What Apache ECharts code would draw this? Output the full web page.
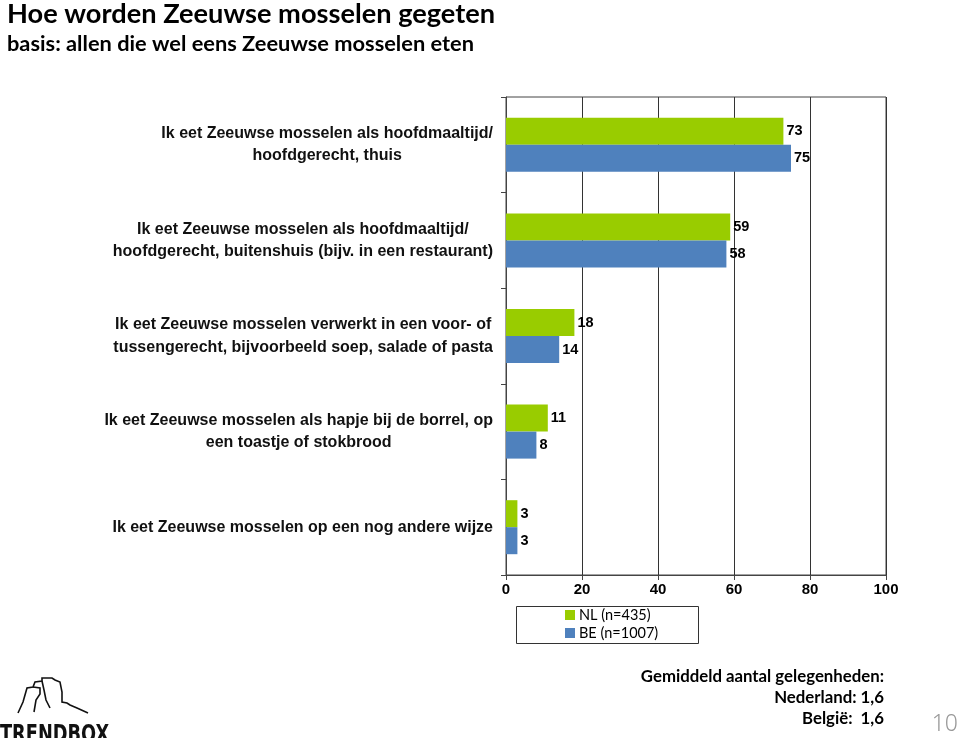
<!DOCTYPE html>
<html><head><meta charset="utf-8">
<script src="https://cdn.jsdelivr.net/npm/echarts@6/dist/echarts.min.js"></script>
<style>html,body{margin:0;padding:0;background:#fff}#c{width:960px;height:738px}</style>
</head><body><div id="c"></div>
<script>
const categories = [
  "Ik eet Zeeuwse mosselen als hoofdmaaltijd/\nhoofdgerecht, thuis",
  "Ik eet Zeeuwse mosselen als hoofdmaaltijd/\nhoofdgerecht, buitenshuis (bijv. in een restaurant)",
  "Ik eet Zeeuwse mosselen verwerkt in een voor- of\ntussengerecht, bijvoorbeeld soep, salade of pasta",
  "Ik eet Zeeuwse mosselen als hapje bij de borrel, op\neen toastje of stokbrood",
  "Ik eet Zeeuwse mosselen op een nog andere wijze"
];
const seriesNames = ["NL (n=435)", "BE (n=1007)"];
const nlValues = [73, 59, 18, 11, 3];
const beValues = [75, 58, 14, 8, 3];
const xTicks = [0, 20, 40, 60, 80, 100];
const titleText = "Hoe worden Zeeuwse mosselen gegeten";
const subtitleText = "basis: allen die wel eens Zeeuwse mosselen eten";
const footerLines = ["Gemiddeld aantal gelegenheden:", "Nederland: 1,6", "België:  1,6"];
const pageNumber = "10";

const ARIAL = "'Liberation Sans', Arial, sans-serif";
const CAL = "Lato, 'Open Sans', sans-serif";
const chart = echarts.init(document.getElementById('c'), null, {renderer: 'canvas'});

const labelStyle = {show: true, position: 'right', distance: 3, color: '#000', fontFamily: ARIAL, fontWeight: 'bold', fontSize: 14.5};

chart.setOption({
  animation: false,
  backgroundColor: '#fff',
  color: ['#99CC00', '#4F81BD'],
  grid: {left: 506, right: 74, top: 97, bottom: 163, show: true, borderColor: '#444', borderWidth: 1, containLabel: false},
  legend: {
    data: seriesNames, orient: 'vertical', left: 565, top: 606, padding: 0, itemGap: 0,
    itemWidth: 10, itemHeight: 10, icon: 'rect',
    textStyle: {fontFamily: CAL, fontSize: 14.5, color: '#000', lineHeight: 18, padding: [0, 0, 0, -1]}
  },
  xAxis: {
    type: 'value', min: xTicks[0], max: xTicks[xTicks.length - 1], interval: xTicks[1] - xTicks[0],
    axisLine: {show: true, lineStyle: {color: '#444', width: 1}},
    axisTick: {show: true, length: 5, lineStyle: {color: '#444'}},
    splitLine: {show: true, lineStyle: {color: '#333', width: 1}},
    axisLabel: {margin: 7, color: '#000', fontFamily: ARIAL, fontWeight: 'bold', fontSize: 15}
  },
  yAxis: {
    type: 'category', data: categories, inverse: true,
    axisLine: {show: true, lineStyle: {color: '#444', width: 1}},
    axisTick: {show: true, length: 5, lineStyle: {color: '#444'}},
    axisLabel: {
      margin: 13,
      formatter: v => v.split('\n').map(l => '{a|' + l + '}').join('\n'),
      rich: {a: {align: 'center', fontFamily: ARIAL, fontWeight: 'bold', fontSize: 16, lineHeight: 22.5, color: '#111'}}
    }
  },
  series: [
    {name: seriesNames[0], type: 'bar', data: nlValues, barWidth: 27, barGap: '0%', label: labelStyle},
    {name: seriesNames[1], type: 'bar', data: beValues, barWidth: 27, barGap: '0%', label: labelStyle}
  ],
  graphic: [
    {type: 'text', style: {x: 7, y: 14, text: titleText, verticalAlign: 'middle', fill: '#000', fontFamily: CAL, fontWeight: 'bold', fontSize: 27.2}},
    {type: 'text', style: {x: 7, y: 44, text: subtitleText, verticalAlign: 'middle', fill: '#000', fontFamily: CAL, fontWeight: 'bold', fontSize: 21.8}},
    {type: 'rect', shape: {x: 516.5, y: 606.5, width: 182, height: 37}, style: {fill: 'none', stroke: '#333', lineWidth: 1}, silent: true},
    {type: 'text', style: {x: 884, y: 677, text: footerLines[0], align: 'right', verticalAlign: 'middle', fill: '#000', fontFamily: CAL, fontWeight: 'bold', fontSize: 16.8}},
    {type: 'text', style: {x: 884, y: 698, text: footerLines[1], align: 'right', verticalAlign: 'middle', fill: '#000', fontFamily: CAL, fontWeight: 'bold', fontSize: 16.8}},
    {type: 'text', style: {x: 884, y: 719, text: footerLines[2], align: 'right', verticalAlign: 'middle', fill: '#000', fontFamily: CAL, fontWeight: 'bold', fontSize: 16.8}},
    {type: 'text', style: {x: 958, y: 724, text: pageNumber, align: 'right', verticalAlign: 'middle', fill: '#999', fontFamily: "'Noto Sans', sans-serif", fontWeight: 300, fontSize: 23}},
    {type: 'polyline', shape: {points: [[18,713],[23,702],[27,688],[33,687],[35,682],[42,681],[42,678],[52,678],[55,680],[60,682],[62,692],[62,702],[67,703],[70,705],[77,708],[88,713]]}, style: {stroke: '#111', fill: 'none', lineWidth: 1.6}, silent: true},
    {type: 'polyline', shape: {points: [[33,687],[40,688],[40,694],[36,700],[34,712]]}, style: {stroke: '#111', fill: 'none', lineWidth: 1.6}, silent: true},
    {type: 'polyline', shape: {points: [[42,681],[44,690],[46,700],[50,708]]}, style: {stroke: '#111', fill: 'none', lineWidth: 1.6}, silent: true},
    {type: 'text', x: 0, y: 723, scaleX: 0.79, style: {x: 0, y: 0, text: 'TRENDBOX', fill: '#111', fontFamily: "'Liberation Sans Narrow', 'DejaVu Sans Condensed', sans-serif", fontWeight: 'bold', fontSize: 25, verticalAlign: 'top'}}
  ]
});
</script></body></html>
